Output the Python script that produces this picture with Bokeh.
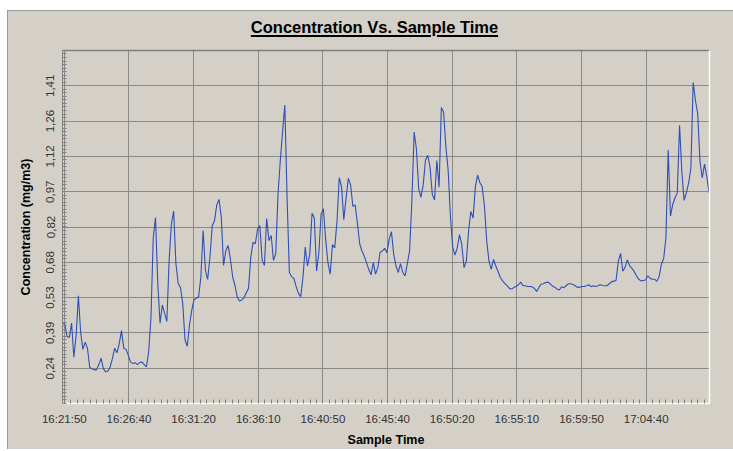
import numpy as np
from bokeh.plotting import figure
from bokeh.layouts import column
from bokeh.models import FixedTicker, Range1d, LinearAxis, Div
from bokeh.embed import file_html
from bokeh.resources import INLINE

# ---------------- data ----------------
sample_start = "16:21:42"
sample_interval_s = 10
axis_origin = "16:21:50"

concentration = [
    0.429, 0.422, 0.370, 0.367, 0.426, 0.285, 0.374, 0.539, 0.388, 0.317,
    0.347, 0.322, 0.242, 0.237, 0.232, 0.232, 0.254, 0.281, 0.237, 0.224,
    0.226, 0.244, 0.279, 0.322, 0.303, 0.340, 0.395, 0.322, 0.317, 0.292,
    0.265, 0.258, 0.262, 0.254, 0.262, 0.265, 0.254, 0.244, 0.309, 0.450,
    0.780, 0.864, 0.590, 0.426, 0.501, 0.467, 0.433, 0.686, 0.837, 0.890,
    0.672, 0.590, 0.574, 0.508, 0.357, 0.330, 0.419, 0.481, 0.524, 0.529,
    0.535, 0.618, 0.810, 0.645, 0.607, 0.700, 0.830, 0.850, 0.916, 0.939,
    0.864, 0.665, 0.727, 0.748, 0.693, 0.618, 0.583, 0.535, 0.518, 0.522,
    0.531, 0.552, 0.570, 0.700, 0.761, 0.755, 0.816, 0.830, 0.686, 0.665,
    0.860, 0.768, 0.789, 0.686, 0.713, 0.960, 1.100, 1.218, 1.330, 0.944,
    0.636, 0.619, 0.611, 0.577, 0.549, 0.536, 0.615, 0.741, 0.663, 0.711,
    0.882, 0.862, 0.642, 0.718, 0.878, 0.900, 0.773, 0.677, 0.629, 0.752,
    0.738, 0.848, 1.029, 0.992, 0.855, 0.944, 1.026, 0.999, 0.910, 0.916,
    0.841, 0.755, 0.725, 0.704, 0.677, 0.649, 0.626, 0.677, 0.629, 0.656,
    0.720, 0.725, 0.736, 0.718, 0.773, 0.805, 0.711, 0.663, 0.636, 0.673,
    0.636, 0.622, 0.673, 0.725, 0.930, 1.218, 1.149, 0.985, 0.947, 0.999,
    1.101, 1.122, 1.074, 0.960, 0.937, 1.100, 0.990, 1.320, 1.300, 1.156,
    1.060, 0.868, 0.741, 0.708, 0.738, 0.793, 0.752, 0.656, 0.683, 0.807,
    0.889, 0.862, 0.992, 1.040, 1.008, 0.992, 0.910, 0.766, 0.683, 0.649,
    0.690, 0.663, 0.640, 0.615, 0.601, 0.590, 0.581, 0.570, 0.567, 0.574,
    0.579, 0.585, 0.596, 0.581, 0.581, 0.578, 0.578, 0.577, 0.570, 0.557,
    0.574, 0.588, 0.589, 0.594, 0.596, 0.589, 0.579, 0.575, 0.567, 0.563,
    0.577, 0.573, 0.581, 0.589, 0.589, 0.586, 0.581, 0.574, 0.575, 0.578,
    0.578, 0.581, 0.585, 0.577, 0.581, 0.578, 0.581, 0.585, 0.582, 0.581,
    0.581, 0.589, 0.597, 0.600, 0.603, 0.681, 0.715, 0.641, 0.657, 0.688,
    0.664, 0.653, 0.640, 0.622, 0.608, 0.601, 0.603, 0.605, 0.622, 0.612,
    0.608, 0.608, 0.599, 0.619, 0.670, 0.694, 0.780, 1.144, 0.870, 0.918,
    0.946, 0.966, 1.246, 1.055, 0.935, 0.966, 1.007, 1.069, 1.424, 1.349,
    1.294, 1.096, 1.028, 1.085, 1.034, 0.966,
]

x_tick_labels = ["16:21:50", "16:26:40", "16:31:20", "16:36:10", "16:40:50",
                 "16:45:40", "16:50:20", "16:55:10", "16:59:50", "17:04:40"]
x_tick_seconds = [0, 285, 570, 855, 1140, 1425, 1710, 1995, 2280, 2565]
x_limits = (-8, 2844)

y_tick_values = [0.2390, 0.3854, 0.5317, 0.6781, 0.8245, 0.9708, 1.1172, 1.2636, 1.4100]
y_tick_labels = ["0,24", "0,39", "0,53", "0,68", "0,82", "0,97", "1,12", "1,26", "1,41"]
y_limits = (0.0926, 1.5564)

title_text = "Concentration Vs. Sample Time"
x_title = "Sample Time"
y_title = "Concentration (mg/m3)"

# ---------------- helpers ----------------
def hms(s):
    h, m, sec = (int(v) for v in s.split(":"))
    return h * 3600 + m * 60 + sec

t0 = hms(sample_start) - hms(axis_origin)
t = [t0 + k * sample_interval_s for k in range(len(concentration))]

BG = "#d4d0c8"
FONT = "Liberation Sans"
GRID = "#8a8a8a"

p = figure(width=725, height=408, output_backend="svg", toolbar_location=None,
           x_range=Range1d(*x_limits), y_range=Range1d(*y_limits),
           min_border_left=54, min_border_right=24, min_border_top=9, min_border_bottom=41,
           background_fill_color=BG, border_fill_color=BG, outline_line_color=None,
           margin=0)

p.line(t, concentration, line_color="#2e4fb5", line_width=1.1)

# x axis
x_step = x_tick_seconds[1] - x_tick_seconds[0]
x_minor = list(np.arange(x_tick_seconds[0], x_limits[1], x_step / 10.0))
xt = FixedTicker(ticks=x_tick_seconds, minor_ticks=x_minor)
p.xaxis.ticker = xt
p.xgrid.ticker = xt
p.xaxis.major_label_overrides = {k: v for k, v in zip(x_tick_seconds, x_tick_labels)}

# y axis
y_step = y_tick_values[1] - y_tick_values[0]
y_minor = list(np.arange(y_limits[0], y_limits[1] + 1e-9, y_step / 10.0))
yt = FixedTicker(ticks=y_tick_values, minor_ticks=y_minor)
p.yaxis.ticker = yt
p.ygrid.ticker = yt
p.yaxis.major_label_overrides = {k: v for k, v in zip(y_tick_values, y_tick_labels)}

for ax in (p.xaxis, p.yaxis):
    ax.major_tick_in = 0
    ax.major_tick_out = 0
    ax.minor_tick_in = 4
    ax.minor_tick_out = 0
    ax.minor_tick_line_color = "#808080"
    ax.major_label_text_font = FONT
    ax.major_label_text_font_size = "11.5px"
    ax.major_label_text_color = "#333333"
    ax.axis_label_text_font = FONT
    ax.axis_label_text_font_size = "12.5px"
    ax.axis_label_text_font_style = "bold"
    ax.axis_label_text_color = "black"

p.xaxis.axis_line_color = "white"
p.xaxis.axis_line_width = 1.5
p.xaxis.major_label_standoff = 9
p.xaxis.axis_label = x_title
p.xaxis.axis_label_standoff = 5

p.yaxis.axis_line_color = "#808080"
p.yaxis.major_label_orientation = "vertical"
p.yaxis.major_label_standoff = 8
p.yaxis.axis_label = y_title
p.yaxis.axis_label_standoff = 11

p.xgrid.grid_line_color = GRID
p.ygrid.grid_line_color = GRID

# top (gray) and right (white) frame edges
def edge_axis(color):
    return LinearAxis(ticker=FixedTicker(ticks=[]), axis_line_color=color, axis_line_width=1.5,
                      major_tick_in=0, major_tick_out=0, minor_tick_in=0, minor_tick_out=0,
                      major_label_text_font_size="0px")
p.add_layout(edge_axis("#808080"), "above")
p.add_layout(edge_axis("white"), "right")

title_div = Div(
    text=('<div style="width:725px;box-sizing:border-box;padding-left:8px;padding-top:7px;'
          'text-align:center;font-family:\'Liberation Sans\';font-size:16.5px;font-weight:bold;'
          'color:black;line-height:18px;"><span style="text-decoration:underline;'
          'text-decoration-thickness:1.5px;text-underline-offset:2px;">'
          + title_text + '</span></div>'),
    width=725, height=30, margin=0,
    styles={"background-color": BG, "overflow": "hidden"})

layout = column(title_div, p, spacing=0, margin=(10, 0, 0, 7),
                styles={"background-color": BG, "border-top": "1px solid #9a9a9a",
                        "border-left": "1px solid #9a9a9a"})

open("out.html", "w").write(file_html(layout, INLINE))
